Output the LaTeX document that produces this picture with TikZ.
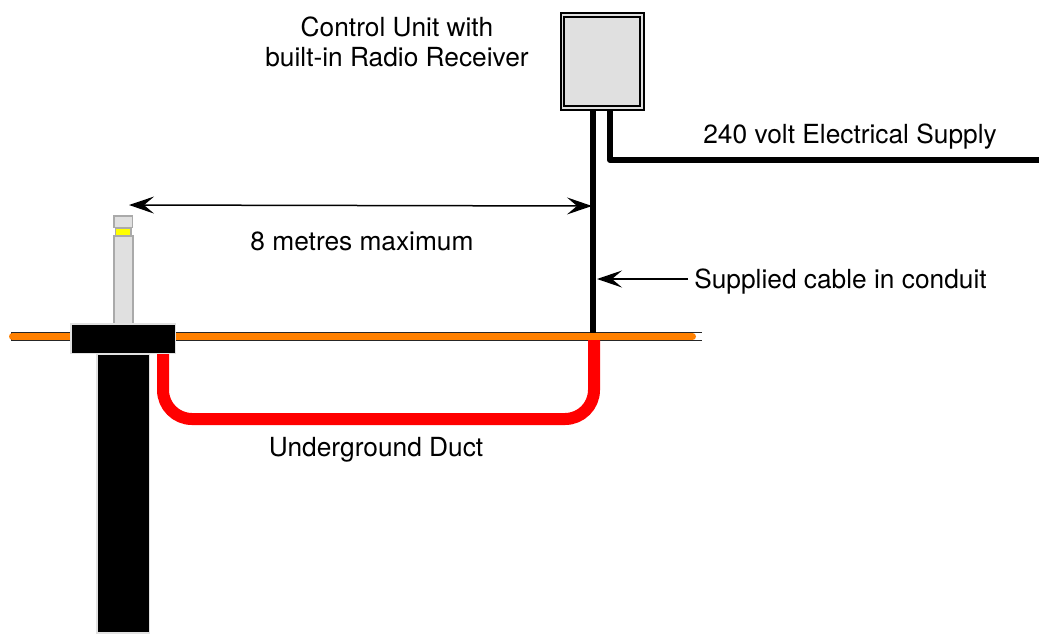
\documentclass[tikz,border=0pt]{standalone}
\usepackage{fontspec}
\setmainfont{TeX Gyre Heros}
\usepackage{tikz}
\usetikzlibrary{arrows.meta}
\definecolor{panel}{RGB}{224, 224, 224}
\definecolor{edge}{RGB}{170, 170, 170}
\definecolor{halo}{RGB}{225, 225, 225}
\definecolor{ground}{RGB}{255, 128, 0}
\definecolor{lamp}{RGB}{255, 255, 0}
\tikzset{
  label/.style={font=\fontsize{26.3}{30}\selectfont, inner sep=0pt, align=center},
  part/.style={draw, inner sep=0pt, outer sep=0pt},
  cable/.style={draw=black, line width=6pt, line join=round},
  duct/.style={draw=red, line width=12pt, rounded corners=29pt},
  measure/.style={draw=black, line width=1.5pt, {Stealth[length=25pt, width=17pt, inset=10pt]}-{Stealth[length=25pt, width=17pt, inset=10pt]}},
  pointer/.style={draw=black, line width=1.5pt, -{Stealth[length=25pt, width=17pt, inset=10pt]}},
}
\newcommand{\partbox}[7]{
  \node[part, draw=#6, fill=#7, line width=#5, minimum width=#3 pt - #5, minimum height=#4 pt - #5]
    (#1) at (#2) {};
}

\begin{document}
\begin{tikzpicture}[x=1pt, y=-1pt]
  \useasboundingbox (0, 0) rectangle (1039, 633);

  % Ground
  \coordinate (groundL) at (12.5, 336.5);
  \coordinate (groundR) at (692.5, 336.5);
  \coordinate (edgeL) at (11, 336.5);
  \coordinate (edgeR) at (702, 336.5);
  \draw[line width=9.5pt, black!85] (edgeL) -- (edgeR);
  \draw[line width=7pt, white] (groundR) -- (edgeR);
  \draw[line width=7pt, ground, line cap=round] (groundL) -- (groundR);

  % Post
  \partbox{pole}{123.25, 493.5}{54}{280}{1.5pt}{halo}{black}
  \partbox{lens}{123, 232}{17}{9}{1.5pt}{edge}{lamp}
  \partbox{tube}{123.25, 280}{20.5}{90}{1.5pt}{edge}{panel}
  \partbox{cap}{123, 221.8}{20}{13}{1.5pt}{edge}{panel}
  \partbox{collar}{123, 338.5}{106}{31}{1.5pt}{halo}{black}

  % Control unit
  \partbox{unit}{602, 61}{85}{99}{2pt}{black}{panel}
  \partbox{unitin}{602, 61}{78}{91}{2pt}{black}{panel}

  % Cables
  \coordinate (feedA) at (unit.south -| 593, 0);
  \coordinate (feedB) at (unit.south -| 610, 0);
  \coordinate (joint) at (593, 333);
  \coordinate (supply) at (1039, 160);
  \draw[cable] (feedA) -- (joint);
  \draw[cable] (feedB) |- (supply);

  % Duct
  \coordinate (ductA) at (163, 354);
  \coordinate (ductB) at (594, 340);
  \draw[duct] (ductA) -- (163, 419) -- (594, 419) -- (ductB);
  \draw[line width=7pt, ground] (587, 336.5) -- (600, 336.5);

  % Labels
  \node[label] (title) at (397, 42) {Control Unit with\\[0pt]built-in Radio Receiver};
  \node[label] (mains) at (850, 137) {240 volt Electrical Supply};
  \node[label] (reach) at (362, 241) {8 metres maximum};
  \node[label] (conduit) at (840.5, 282) {Supplied cable in conduit};
  \node[label] (buried) at (376, 450) {Underground Duct};

  % Arrows
  \coordinate (reachL) at (129, 205);
  \coordinate (reachR) at (592, 206);
  \coordinate (conduitTail) at (688, 279);
  \coordinate (conduitTip) at (597, 279);
  \draw[measure] (reachL) -- (reachR);
  \draw[pointer] (conduitTail) -- (conduitTip);
\end{tikzpicture}
\end{document}
